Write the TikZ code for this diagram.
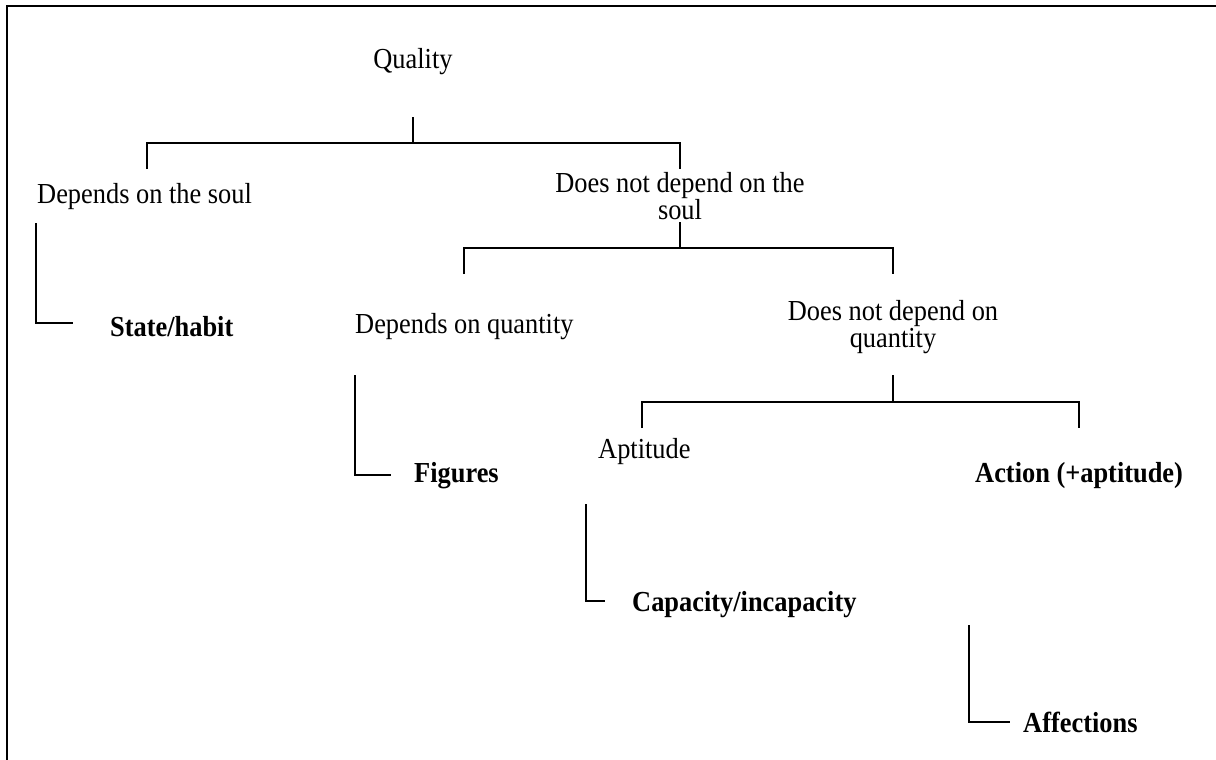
\documentclass[tikz,border=0pt]{standalone}
\usepackage{fontspec}
\setmainfont{Liberation Serif}[FakeStretch=0.91]
\begin{document}
\begin{tikzpicture}[x=1pt,y=-1pt,
  lbl/.style={inner sep=0pt, font=\fontsize{29}{27}\selectfont},
  leaf/.style={lbl, font=\fontsize{29}{27}\selectfont\bfseries},
  two/.style={lbl, align=center},
  conn/.style={line width=1.5pt}]
\useasboundingbox (0,0) rectangle (1216,760);

% frame
\draw[line width=2pt] (7,760) -- (7,6) -- (1216,6);

% labels
\node[lbl] (q) at (413,62) {Quality};
\node[lbl, anchor=west] (soulA) at (37,197) {Depends on the soul};
\node[two] (soulB) at (680,196) {Does not depend on the\\soul};
\node[lbl, anchor=west] (qtyA) at (355,327) {Depends on quantity};
\node[two] (qtyB) at (893,327) {Does not depend on\\quantity};
\node[leaf, anchor=west] (habit) at (110,327) {State/habit};
\node[leaf, anchor=west] (fig) at (414,476) {Figures};
\node[lbl, anchor=west] (apt) at (598,452) {Aptitude};
\node[leaf, anchor=west] (act) at (975,476) {Action (+aptitude)};
\node[leaf, anchor=west] (cap) at (632,605) {Capacity/incapacity};
\node[leaf, anchor=west] (aff) at (1023,722) {Affections};

% junction points
\coordinate (qs) at (413,117);
\coordinate (qj) at (413,143);
\coordinate (sA) at (147,169);
\coordinate (sB) at (680,169);
\coordinate (bs) at (680,222);
\coordinate (bj) at (680,248);
\coordinate (tA) at (464,274);
\coordinate (tB) at (893,274);
\coordinate (cs) at (893,375);
\coordinate (cj) at (893,402);
\coordinate (uA) at (642,428);
\coordinate (uB) at (1079,428);
\coordinate (h1) at (36,223);  \coordinate (h2) at (73,323);
\coordinate (f1) at (355,375); \coordinate (f2) at (391,475);
\coordinate (c1) at (586,504); \coordinate (c2) at (605,601);
\coordinate (a1) at (969,625); \coordinate (a2) at (1010,722);

% brackets
\draw[conn] (qs) -- (qj);
\draw[conn] (sA) |- (qj) -| (sB);
\draw[conn] (bs) -- (bj);
\draw[conn] (tA) |- (bj) -| (tB);
\draw[conn] (cs) -- (cj);
\draw[conn] (uA) |- (cj) -| (uB);

% single branches
\draw[conn] (h1) |- (h2);
\draw[conn] (f1) |- (f2);
\draw[conn] (c1) |- (c2);
\draw[conn] (a1) |- (a2);
\end{tikzpicture}
\end{document}
